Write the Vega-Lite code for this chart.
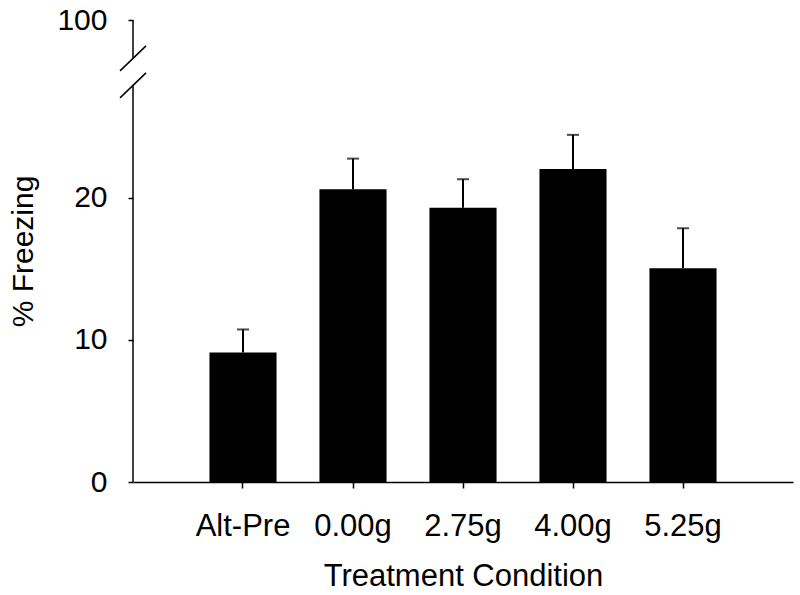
{
  "$schema": "https://vega.github.io/schema/vega-lite/v6.json",
  "width": 660,
  "height": 462,
  "autosize": "none",
  "padding": {"left": 133, "top": 20, "right": 7, "bottom": 113},
  "background": "white",
  "config": {
    "view": {"stroke": null},
    "font": "Liberation Sans",
    "axis": {"grid": false, "labelColor": "black", "titleColor": "black", "labelFont": "Liberation Sans", "titleFont": "Liberation Sans", "titleFontWeight": "normal", "tickColor": "black", "domainColor": "black"}
  },
  "datasets": {
    "bars": [
      {"Condition": "Alt-Pre", "Freezing": 9.11, "Upper": 10.73},
      {"Condition": "0.00g", "Freezing": 20.59, "Upper": 22.75},
      {"Condition": "2.75g", "Freezing": 19.3, "Upper": 21.3},
      {"Condition": "4.00g", "Freezing": 22.02, "Upper": 24.42},
      {"Condition": "5.25g", "Freezing": 15.03, "Upper": 17.85}
    ],
    "axisSegments": [
      {"from": 0, "to": 27.94},
      {"from": 29.84, "to": 32.5}
    ],
    "breaks": [
      {"at": 29.8},
      {"at": 27.9}
    ]
  },
  "layer": [
    {
      "data": {"name": "bars"},
      "mark": {"type": "bar", "color": "black"},
      "encoding": {
        "x": {
          "field": "Condition", "type": "nominal", "sort": null,
          "scale": {"paddingInner": 0.39, "paddingOuter": 0.695},
          "axis": {"title": "Treatment Condition", "labelAngle": 0, "labelFontSize": 31, "titleFontSize": 31, "tickSize": 6, "tickWidth": 1.5, "domainWidth": 1.5, "labelPadding": 23, "titlePadding": 20}
        },
        "y": {
          "field": "Freezing", "type": "quantitative",
          "scale": {"domain": [0, 32.5], "nice": false, "zero": true},
          "axis": {"title": "% Freezing", "values": [0, 10, 20, 32.5], "labelExpr": "datum.value > 30 ? '100' : datum.label", "domain": false, "tickSize": 5, "tickWidth": 1.5, "labelFontSize": 30, "titleFontSize": 30, "labelPadding": 21, "titlePadding": 18}
        }
      }
    },
    {
      "data": {"name": "bars"},
      "mark": {"type": "rule", "color": "black", "strokeWidth": 2},
      "encoding": {
        "x": {"field": "Condition", "type": "nominal", "sort": null},
        "y": {"field": "Freezing", "type": "quantitative"},
        "y2": {"field": "Upper"}
      }
    },
    {
      "data": {"name": "bars"},
      "mark": {"type": "tick", "color": "black", "size": 12, "thickness": 2},
      "encoding": {
        "x": {"field": "Condition", "type": "nominal", "sort": null},
        "y": {"field": "Upper", "type": "quantitative"}
      }
    },
    {
      "data": {"name": "axisSegments"},
      "mark": {"type": "rule", "color": "black", "strokeWidth": 1.5},
      "encoding": {
        "x": {"value": 0},
        "y": {"field": "from", "type": "quantitative"},
        "y2": {"field": "to"}
      }
    },
    {
      "data": {"name": "breaks"},
      "mark": {"type": "point", "shape": "M-1,0.96L1,-0.96", "filled": false, "stroke": "black", "strokeWidth": 1.5, "size": 676, "opacity": 1},
      "encoding": {
        "x": {"value": 0},
        "y": {"field": "at", "type": "quantitative"}
      }
    }
  ]
}
